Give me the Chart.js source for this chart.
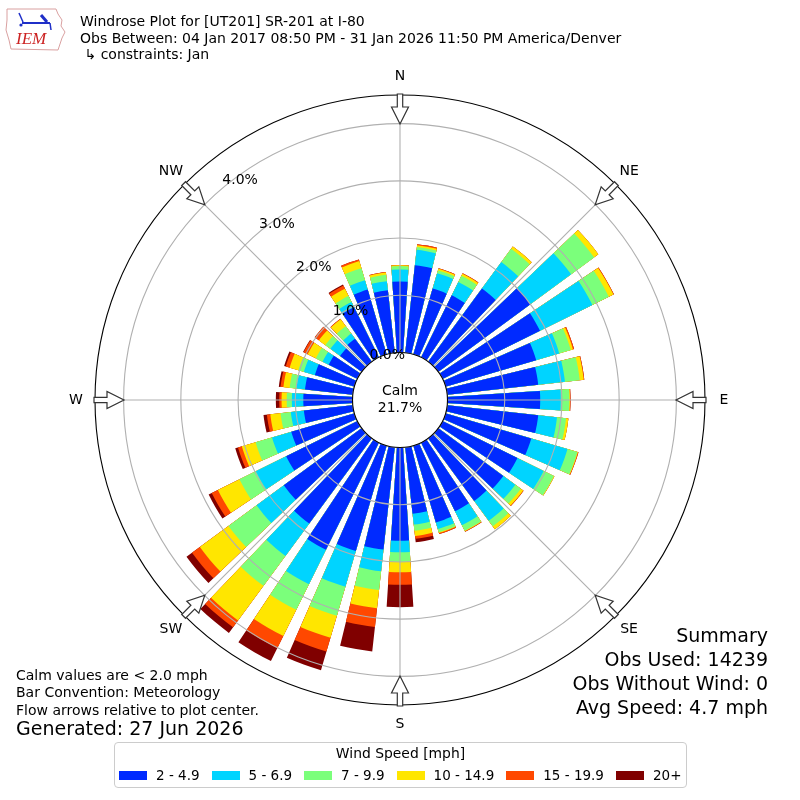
<!DOCTYPE html>
<html>
<head>
<meta charset="utf-8">
<script src="https://cdn.jsdelivr.net/npm/chart.js@4.4.1/dist/chart.umd.min.js"></script>
<style>
html,body{margin:0;padding:0;background:#fff;}
#wrap{position:relative;width:800px;height:800px;overflow:hidden;font-family:"DejaVu Sans",sans-serif;color:#000;}
#c{position:absolute;left:0;top:0;width:800px;height:800px;}
.t{position:absolute;white-space:nowrap;line-height:1;font-family:"DejaVu Sans",sans-serif;}
#legend{position:absolute;left:114px;top:742px;width:571px;height:44px;border:1px solid #cccccc;border-radius:4px;background:#fff;}
#legend .lt{position:absolute;left:0;right:0;top:4px;text-align:center;font-size:13.9px;line-height:1;white-space:nowrap;}
#legend .items{position:absolute;left:4px;right:0;top:26px;display:flex;justify-content:flex-start;align-items:center;font-size:13.5px;line-height:1;white-space:nowrap;}
#legend .it{display:flex;align-items:center;margin-right:12px;white-space:nowrap;flex:none;}
#legend .sw{width:28px;height:9px;margin-right:9px;flex:none;}
</style>
</head>
<body>
<div id="wrap">
<canvas id="c" width="800" height="800"></canvas>

<svg style="position:absolute;left:0;top:0" width="72" height="56">
  <path d="M7 9 L56 9 L58 14 L62 20 L61 26 L65 32 L62 38 L60 44 L58 50 L11 49 L9 40 L6 30 L7 20 Z" fill="none" stroke="#d9a0a0" stroke-width="1"/>
  <line x1="22" y1="23" x2="50" y2="23" stroke="#1f2fc8" stroke-width="2"/>
  <line x1="19" y1="13" x2="23" y2="22" stroke="#1f2fc8" stroke-width="1.5"/>
  <line x1="41" y1="15" x2="47" y2="22" stroke="#1f2fc8" stroke-width="3"/>
  <line x1="50" y1="23" x2="51" y2="30" stroke="#1f2fc8" stroke-width="1.5"/>
  <circle cx="21" cy="25" r="1.6" fill="#1f2fc8"/>
  <text x="16" y="44" font-family="Liberation Serif" font-style="italic" font-size="17" fill="#cc2222">IEM</text>
</svg>

<div class="t" style="left:80px;top:14.2px;font-size:14px">Windrose Plot for [UT201] SR-201 at I-80</div>
<div class="t" style="left:80px;top:30.7px;font-size:14px">Obs Between: 04 Jan 2017 08:50 PM - 31 Jan 2026 11:50 PM America/Denver</div>
<div class="t" style="left:80px;top:47.2px;font-size:14px">&nbsp;↳ constraints: Jan</div>

<div class="t" style="left:16px;top:668.2px;font-size:14px">Calm values are &lt; 2.0 mph</div>
<div class="t" style="left:16px;top:685.2px;font-size:14px">Bar Convention: Meteorology</div>
<div class="t" style="left:16px;top:703.2px;font-size:14px">Flow arrows relative to plot center.</div>
<div class="t" style="left:16px;top:719px;font-size:19px">Generated: 27 Jun 2026</div>

<div class="t" style="right:32px;top:626px;font-size:19px;text-align:right">Summary</div>
<div class="t" style="right:32px;top:650px;font-size:19px;text-align:right">Obs Used: 14239</div>
<div class="t" style="right:32px;top:674px;font-size:19px;text-align:right">Obs Without Wind: 0</div>
<div class="t" style="right:32px;top:698px;font-size:19px;text-align:right">Avg Speed: 4.7 mph</div>

<div id="legend"><div class="lt">Wind Speed [mph]</div><div class="items" id="items"></div></div>
</div>

<script>
// ---- data (percent of observations per 10-degree direction bin) ----
const directions = [0,10,20,30,40,50,60,70,80,90,100,110,120,130,140,150,160,170,
                    180,190,200,210,220,230,240,250,260,270,280,290,300,310,320,330,340,350];
const speedLabels = ['2 - 4.9','5 - 6.9','7 - 9.9','10 - 14.9','15 - 19.9','20+'];
const spd2to5   = [1.24,1.54,1.20,1.21,1.59,2.00,1.90,1.65,1.60,1.62,1.60,1.56,1.46,1.41,1.36,1.34,1.40,1.17,
                   1.63,1.80,1.92,2.09,1.85,1.69,1.39,1.15,0.86,0.86,0.84,0.72,0.56,0.47,0.50,0.98,1.18,1.10];
const spd5to7   = [0.21,0.27,0.28,0.26,0.57,0.88,1.02,0.42,0.47,0.36,0.33,0.66,0.51,0.26,0.43,0.27,0.12,0.19,
                   0.20,0.38,0.65,0.67,0.70,0.59,0.59,0.35,0.23,0.20,0.15,0.20,0.12,0.21,0.11,0.10,0.17,0.16];
const spd7to10  = [0.06,0.05,0.05,0.12,0.29,0.50,0.32,0.21,0.26,0.15,0.16,0.18,0.20,0.12,0.12,0.11,0.06,0.11,
                   0.17,0.33,0.53,0.50,0.65,0.61,0.32,0.30,0.18,0.09,0.12,0.10,0.13,0.11,0.16,0.12,0.22,0.11];
const spd10to15 = [0.015,0.03,0.03,0.04,0.05,0.09,0.09,0.04,0.07,0.01,0.04,0.01,0.01,0.05,0.06,0.01,0.01,0.09,
                   0.18,0.32,0.40,0.51,0.75,0.62,0.42,0.25,0.18,0.09,0.11,0.16,0.16,0.14,0.15,0.14,0.13,0.04];
const spd15to20 = [0.005,0.02,0.01,0.01,0.00,0.00,0.01,0.02,0.01,0.01,0.00,0.01,0.00,0.01,0.00,0.01,0.02,0.05,
                   0.22,0.33,0.25,0.24,0.15,0.17,0.12,0.07,0.06,0.04,0.05,0.07,0.08,0.09,0.01,0.06,0.03,0.01];
const spd20plus = [0,0,0,0,0,0,0,0,0,0,0,0,0,0,0,0,0,0.06,
                   0.39,0.43,0.34,0.25,0.12,0.12,0.06,0.05,0.06,0.06,0.03,0.03,0.01,0,0,0.02,0,0];
const calmPercent = 21.7;
const ringTicks = [0, 1, 2, 3, 4];
const compassNames = ['N','NE','E','SE','S','SW','W','NW'];

// ---- styles ----
const speedColors = ['#002aff','#00d4ff','#7bff7b','#ffe600','#ff4800','#800000'];
const R_MIN = -0.83, R_MAX = 4.5;
const BAR_DEG = 7.4, GAP_DEG = 10 - BAR_DEG, START_DEG = -5;

const series = [spd2to5, spd5to7, spd7to10, spd10to15, spd15to20, spd20plus];
// 72 slots: slot 0 = lead gap, slot 2k+1 = bar k, slot 2k+2 = gap
const nSlots = directions.length * 2;
const slotLabels = [];
const slotAngles = [];
for (let i = 0; i < nSlots; i++) {
  if (i % 2 === 1) { slotLabels.push(directions[(i - 1) / 2] + '°'); slotAngles.push(BAR_DEG); }
  else { slotLabels.push(''); slotAngles.push(i === 0 ? (5 - BAR_DEG / 2) : GAP_DEG); }
}
const datasets = series.map((s, level) => {
  const data = [];
  for (let i = 0; i < nSlots; i++) {
    if (i % 2 === 1) {
      const k = (i - 1) / 2;
      let c = 0;
      for (let j = 0; j <= level; j++) c += series[j][k];
      data.push(c);
    } else data.push(0);
  }
  return {
    label: speedLabels[level],
    data,
    backgroundColor: speedColors[level],
    borderWidth: 0,
    angle: (ctx) => slotAngles[ctx.dataIndex]
  };
});

const decor = {
  id: 'decor',
  afterDraw(chart) {
    const s = chart.scales.r, ctx = chart.ctx;
    const cx = s.xCenter, cy = s.yCenter, R = s.drawingArea;
    const r0 = s.getDistanceFromCenterForValue(0);
    ctx.save();
    // calm circle
    ctx.beginPath(); ctx.arc(cx, cy, r0, 0, Math.PI * 2);
    ctx.fillStyle = '#fff'; ctx.fill();
    ctx.lineWidth = 1.1; ctx.strokeStyle = '#000'; ctx.stroke();
    ctx.fillStyle = '#000';
    ctx.font = '14px "DejaVu Sans"';
    ctx.textAlign = 'center'; ctx.textBaseline = 'alphabetic';
    ctx.fillText('Calm', cx, cy - 5);
    ctx.fillText(calmPercent.toFixed(1) + '%', cx, cy + 12);
    // ring labels
    const la = 320 * Math.PI / 180;
    ctx.textAlign = 'left';
    ringTicks.forEach(v => {
      const r = s.getDistanceFromCenterForValue(v);
      ctx.fillText(v.toFixed(1) + '%', cx + Math.sin(la) * r, cy - Math.cos(la) * r - 4.6);
    });
    // arrows and compass labels
    ctx.textAlign = 'center'; ctx.textBaseline = 'middle';
    compassNames.forEach((name, n) => {
      const a = n * 45 * Math.PI / 180;
      const ux = Math.sin(a), uy = -Math.cos(a), px = Math.cos(a), py = Math.sin(a);
      const P = (r, w) => [cx + ux * r + px * w, cy + uy * r + py * w];
      const pts = [P(R + 1, -2.7), P(R - 12, -2.7), P(R - 12, -8.5), P(R - 29, 0), P(R - 12, 8.5), P(R - 12, 2.7), P(R + 1, 2.7)];
      ctx.beginPath();
      pts.forEach((p, i) => i ? ctx.lineTo(p[0], p[1]) : ctx.moveTo(p[0], p[1]));
      ctx.closePath();
      ctx.fillStyle = '#fff'; ctx.fill();
      ctx.lineWidth = 1.2; ctx.strokeStyle = '#333'; ctx.stroke();
      ctx.fillStyle = '#000';
      const lp = P(R + 19, 0);
      ctx.fillText(name, lp[0], lp[1]);
    });
    ctx.restore();
  }
};

new Chart(document.getElementById('c'), {
  type: 'polarArea',
  data: { labels: slotLabels, datasets },
  options: {
    responsive: false,
    animation: false,
    devicePixelRatio: 1,
    events: [],
    layout: { padding: 95 },
    plugins: { legend: { display: false }, tooltip: { enabled: false }, title: { display: false } },
    elements: { arc: { borderWidth: 0 } },
    scales: {
      r: {
        startAngle: START_DEG,
        min: R_MIN,
        max: R_MAX,
        afterBuildTicks: (sc) => { sc.ticks = ringTicks.concat([R_MAX]).map(v => ({ value: v })); },
        ticks: { display: false },
        pointLabels: { display: false },
        grid: {
          z: 1, circular: true, lineWidth: 1.1,
          color: (c) => (c.tick && c.tick.value === R_MAX) ? '#000000' : '#b0b0b0'
        },
        angleLines: {
          display: true, color: '#b0b0b0',
          lineWidth: (c) => ((c.index - 1) % 9 === 0) ? 1.1 : 0
        }
      }
    }
  },
  plugins: [decor]
});

// legend
const items = document.getElementById('items');
speedLabels.forEach((lab, i) => {
  const it = document.createElement('div'); it.className = 'it';
  const sw = document.createElement('div'); sw.className = 'sw'; sw.style.background = speedColors[i];
  const tx = document.createElement('span'); tx.textContent = lab;
  it.appendChild(sw); it.appendChild(tx); items.appendChild(it);
});
</script>
</body>
</html>
